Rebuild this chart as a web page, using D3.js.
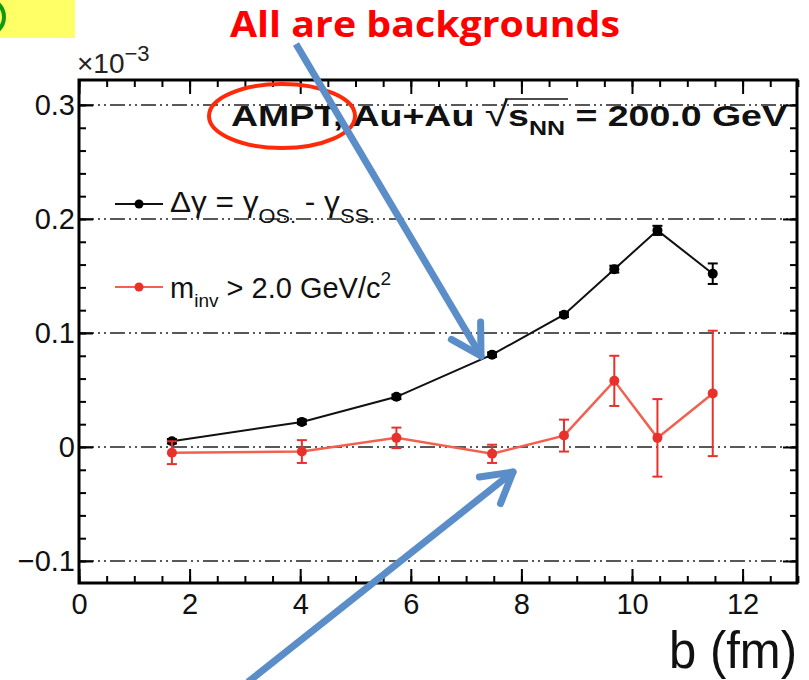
<!DOCTYPE html>
<html>
<head>
<meta charset="utf-8">
<title>Delta gamma vs b</title>
<style>
  body { margin: 0; background: #fff; }
  svg { display: block; font-family: "Liberation Sans", Arial, sans-serif; }
  .axis path { display: none; }
  .axis line { stroke: #000; stroke-width: 2; }
  .axis text { font-size: 29px; fill: #111; }
</style>
</head>
<body>
<script src="https://cdn.jsdelivr.net/npm/d3@7"></script>
<script>
// impact parameter b (fm)
var bBlack = [1.68, 4.03, 5.74, 7.47, 8.77, 9.68, 10.46, 11.46];
// delta gamma (x10^-3)
var dgBlack = [0.005, 0.022, 0.044, 0.081, 0.116, 0.156, 0.190, 0.152];
var errBlack = [0.002, 0.002, 0.002, 0.002, 0.002, 0.003, 0.004, 0.009];

var bRed = [1.68, 4.03, 5.74, 7.47, 8.77, 9.68, 10.46, 11.46];
var dgRed = [-0.005, -0.004, 0.008, -0.006, 0.010, 0.058, 0.008, 0.047];
var errRed = [0.010, 0.010, 0.009, 0.008, 0.014, 0.022, 0.034, 0.055];

var xMajor = [0, 2, 4, 6, 8, 10, 12];
var yMajor = [-0.1, 0, 0.1, 0.2, 0.3];

var W = 809, H = 680;
var svg = d3.select("body").append("svg")
    .attr("width", W)
    .attr("height", H);

var frame = {left: 79, right: 797, top: 80, bottom: 583};

var x = d3.scaleLinear().domain([0, 13]).range([frame.left, frame.left + 13 * 55.3]);
var y = d3.scaleLinear().domain([-0.1193, 0.3219]).range([frame.bottom, frame.top]);

// yellow tag in corner (cut off in the slide)
svg.append("rect").attr("x", 0).attr("y", 0).attr("width", 75).attr("height", 38)
    .attr("fill", "#ffff66");
svg.append("circle").attr("cx", -14).attr("cy", 17).attr("r", 18)
    .attr("fill", "none").attr("stroke", "#109a10").attr("stroke-width", 4);

// grid lines, dash-dot-dot
svg.append("g").selectAll("line")
  .data(yMajor)
  .enter().append("line")
    .attr("x1", frame.left).attr("x2", frame.right)
    .attr("y1", d => y(d)).attr("y2", d => y(d))
    .attr("stroke", "#222")
    .attr("stroke-width", 1.6)
    .attr("stroke-dasharray", "15,4,2,4,2,4");

// ticks
var yMinor = d3.range(-0.1, 0.32, 0.02).map(d => +d.toFixed(2));
var xMinor = d3.range(0, 13.01, 0.5);

svg.append("g").attr("class", "axis")
    .attr("transform", "translate(" + frame.left + ",0)")
    .call(d3.axisLeft(y).tickValues(yMajor).tickSize(-14).tickPadding(4)
      .tickFormat(d => d === 0 ? "0" : d3.format(".1f")(d).replace("-", "\u2212")));
svg.append("g").attr("class", "axis")
    .attr("transform", "translate(" + frame.left + ",0)")
    .call(d3.axisLeft(y).tickValues(yMinor).tickSize(-7).tickFormat(""));
svg.append("g").attr("class", "axis")
    .attr("transform", "translate(" + frame.right + ",0)")
    .call(d3.axisRight(y).tickValues(yMajor).tickSize(-14).tickFormat(""));
svg.append("g").attr("class", "axis")
    .attr("transform", "translate(" + frame.right + ",0)")
    .call(d3.axisRight(y).tickValues(yMinor).tickSize(-7).tickFormat(""));

svg.append("g").attr("class", "axis xlab")
    .attr("transform", "translate(0," + frame.bottom + ")")
    .call(d3.axisBottom(x).tickValues(xMajor).tickSize(-14).tickPadding(8));
svg.append("g").attr("class", "axis")
    .attr("transform", "translate(0," + frame.bottom + ")")
    .call(d3.axisBottom(x).tickValues(xMinor).tickSize(-7).tickFormat(""));
svg.append("g").attr("class", "axis")
    .attr("transform", "translate(0," + frame.top + ")")
    .call(d3.axisTop(x).tickValues(xMajor).tickSize(-14).tickFormat(""));
svg.append("g").attr("class", "axis")
    .attr("transform", "translate(0," + frame.top + ")")
    .call(d3.axisTop(x).tickValues(xMinor).tickSize(-7).tickFormat(""));

// x tick labels sit a bit lower
svg.selectAll(".xlab text").attr("y", 10);

// frame
svg.append("rect")
    .attr("x", frame.left).attr("y", frame.top)
    .attr("width", frame.right - frame.left).attr("height", frame.bottom - frame.top)
    .attr("fill", "none").attr("stroke", "#000").attr("stroke-width", 3);

// x10^-3
var mult = svg.append("text").attr("x", 77).attr("y", 73).attr("font-size", 28).attr("fill", "#222");
mult.append("tspan").text("\u00d710");
mult.append("tspan").attr("dy", -12).attr("font-size", 22).text("\u22123");

// axis title
svg.append("text")
    .attr("x", frame.right).attr("y", 668)
    .attr("text-anchor", "end")
    .attr("font-size", 52)
    .attr("textLength", 128).attr("lengthAdjust", "spacingAndGlyphs")
    .attr("fill", "#111")
    .text("b (fm)");

// series
function drawSeries(bs, vals, errs, lineColor, dotColor, lw) {
  var pts = bs.map((b, i) => ({b: b, v: vals[i], e: errs[i]}));
  var g = svg.append("g");
  g.append("path")
      .datum(pts)
      .attr("fill", "none")
      .attr("stroke", lineColor)
      .attr("stroke-width", lw)
      .attr("d", d3.line().x(d => x(d.b)).y(d => y(d.v)));
  var eb = g.selectAll(".eb").data(pts).enter().append("g").attr("class", "eb");
  eb.append("line")
      .attr("x1", d => x(d.b)).attr("x2", d => x(d.b))
      .attr("y1", d => y(d.v - d.e)).attr("y2", d => y(d.v + d.e))
      .attr("stroke", dotColor).attr("stroke-width", 2);
  [-1, 1].forEach(function(s) {
    eb.append("line")
        .attr("x1", d => x(d.b) - 5).attr("x2", d => x(d.b) + 5)
        .attr("y1", d => y(d.v + s * d.e)).attr("y2", d => y(d.v + s * d.e))
        .attr("stroke", dotColor).attr("stroke-width", 2);
  });
  g.selectAll("circle").data(pts).enter().append("circle")
      .attr("cx", d => x(d.b)).attr("cy", d => y(d.v))
      .attr("r", 5)
      .attr("fill", dotColor);
}
drawSeries(bBlack, dgBlack, errBlack, "#111", "#000", 2);
drawSeries(bRed, dgRed, errRed, "#f2604f", "#e8312b", 2.5);

// legend
var lg1 = svg.append("g");
lg1.append("line").attr("x1", 115).attr("x2", 163).attr("y1", 204).attr("y2", 204)
    .attr("stroke", "#111").attr("stroke-width", 2);
lg1.append("circle").attr("cx", 139).attr("cy", 204).attr("r", 4.5).attr("fill", "#000");
var t1 = lg1.append("text").attr("x", 170).attr("y", 212).attr("font-size", 29).attr("fill", "#111")
    .attr("textLength", 205).attr("lengthAdjust", "spacingAndGlyphs");
t1.append("tspan").text("\u0394\u03b3 = \u03b3");
t1.append("tspan").attr("dy", 11).attr("font-size", 20).text("OS.");
t1.append("tspan").attr("dy", -11).text(" - \u03b3");
t1.append("tspan").attr("dy", 11).attr("font-size", 20).text("SS.");

var lg2 = svg.append("g");
lg2.append("line").attr("x1", 115).attr("x2", 163).attr("y1", 287).attr("y2", 287)
    .attr("stroke", "#f2604f").attr("stroke-width", 2);
lg2.append("circle").attr("cx", 139).attr("cy", 287).attr("r", 4.5).attr("fill", "#e8312b");
var t2 = lg2.append("text").attr("x", 170).attr("y", 298).attr("font-size", 29).attr("fill", "#111");
t2.append("tspan").text("m");
t2.append("tspan").attr("dy", 9).attr("font-size", 19).text("inv");
t2.append("tspan").attr("dy", -9).text(" > 2.0 GeV/c");
t2.append("tspan").attr("dy", -13).attr("font-size", 19).text("2");

// header
var hd = svg.append("text").attr("x", 231).attr("y", 126)
    .attr("font-size", 30).attr("font-weight", "bold").attr("fill", "#111")
    .attr("textLength", 556).attr("lengthAdjust", "spacingAndGlyphs");
hd.append("tspan").text("AMPT, Au+Au  ");
hd.append("tspan").attr("font-weight", "normal").attr("font-size", 34).text("\u221a");
hd.append("tspan").text("s");
hd.append("tspan").attr("dy", 9).attr("font-size", 20).text("NN");
hd.append("tspan").attr("dy", -9).text(" = 200.0 GeV");
svg.append("line").attr("x1", 505).attr("x2", 568).attr("y1", 99).attr("y2", 99)
    .attr("stroke", "#111").attr("stroke-width", 1.5);

// slide annotations
svg.append("ellipse").attr("cx", 282).attr("cy", 116).attr("rx", 73).attr("ry", 32)
    .attr("fill", "none").attr("stroke", "#ff2a0a").attr("stroke-width", 4);

svg.append("text")
    .attr("x", 230).attr("y", 37)
    .attr("font-family", "'Open Sans', 'Liberation Sans', sans-serif")
    .attr("font-size", 36).attr("font-weight", "bold")
    .attr("textLength", 390).attr("lengthAdjust", "spacingAndGlyphs")
    .attr("fill", "#ff0000")
    .text("All are backgrounds");

function arrow(x1, y1, x2, y2) {
  var dx = x2 - x1, dy = y2 - y1, len = Math.sqrt(dx * dx + dy * dy);
  var ux = dx / len, uy = dy / len;
  var g = svg.append("g").attr("stroke", "#5b8ec8").attr("stroke-width", 7)
      .attr("stroke-linecap", "round").attr("fill", "none");
  g.append("line").attr("x1", x1).attr("y1", y1).attr("x2", x2 - ux * 3).attr("y2", y2 - uy * 3)
      .attr("stroke-linecap", "butt");
  var a = Math.PI / 6, L = 34;
  [a, -a].forEach(function(t) {
    var wx = -(ux * Math.cos(t) - uy * Math.sin(t));
    var wy = -(ux * Math.sin(t) + uy * Math.cos(t));
    g.append("line").attr("x1", x2).attr("y1", y2)
        .attr("x2", x2 + wx * L).attr("y2", y2 + wy * L);
  });
}
arrow(296, 44, 481, 356);
arrow(248, 682, 513, 472);
</script>
</body>
</html>
